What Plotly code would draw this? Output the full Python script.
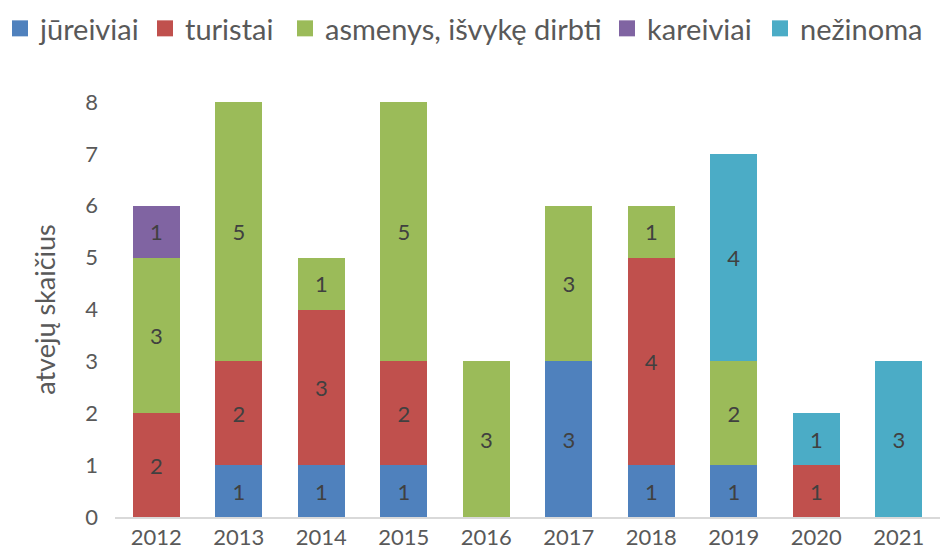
import plotly.graph_objects as go

years = ["2012", "2013", "2014", "2015", "2016", "2017", "2018", "2019", "2020", "2021"]
jureiviai = [0, 1, 1, 1, 0, 3, 1, 1, 0, 0]
turistai = [2, 2, 3, 2, 0, 0, 4, 0, 1, 0]
asmenys = [3, 5, 1, 5, 3, 3, 1, 2, 0, 0]
kareiviai = [1, 0, 0, 0, 0, 0, 0, 0, 0, 0]
nezinoma = [0, 0, 0, 0, 0, 0, 0, 4, 1, 3]

series = [
    ("jūreiviai", jureiviai, "#4F81BD"),
    ("turistai", turistai, "#C0504D"),
    ("asmenys, išvykę dirbti", asmenys, "#9BBB59"),
    ("kareiviai", kareiviai, "#8064A2"),
    ("nežinoma", nezinoma, "#4BACC6"),
]
legend_left_px = [0, 145, 285, 607, 760]

FONT = "Lato, sans-serif"
W, H = 941, 559

fig = go.Figure()
for i, (name, vals, color) in enumerate(series):
    fig.add_trace(go.Bar(
        x=years,
        y=[v if v else None for v in vals],
        name=name,
        showlegend=False,
        marker=dict(color=color, line=dict(width=0)),
        text=[str(v) if v else "" for v in vals],
        textposition="inside",
        insidetextanchor="middle",
        textangle=0,
        constraintext="none",
        textfont=dict(family=FONT, size=22, color="#404040"),
        hoverinfo="x+y+name",
    ))
    lg = "legend" if i == 0 else f"legend{i + 1}"
    # legend proxy (no data points)
    fig.add_trace(go.Scatter(
        x=[None], y=[None], mode="markers", name=name,
        marker=dict(symbol="square", size=20, color=color),
        legend=lg, showlegend=True, hoverinfo="skip",
    ))
    fig.update_layout({lg: dict(
        orientation="h",
        x=legend_left_px[i] / W,
        xref="container",
        xanchor="left",
        y=1 - 3 / H,
        yref="container",
        yanchor="top",
        bgcolor="rgba(0,0,0,0)",
        font=dict(family=FONT, size=29, color="#595959"),
        itemwidth=30,
        itemsizing="trace",
    )})

fig.update_layout(
    barmode="stack",
    bargap=0.43,
    width=W,
    height=H,
    paper_bgcolor="white",
    plot_bgcolor="white",
    margin=dict(l=115, r=1, t=102, b=42, autoexpand=False),
    font=dict(family=FONT, color="#595959"),
    xaxis=dict(
        type="category",
        showgrid=False,
        showline=True,
        linecolor="#D9D9D9",
        linewidth=1.5,
        ticks="",
        tickfont=dict(size=22, color="#595959"),
    ),
    yaxis=dict(
        range=[0, 8],
        dtick=1,
        showgrid=False,
        zeroline=False,
        showline=False,
        ticks="",
        ticklabelstandoff=16,
        tickfont=dict(size=22, color="#595959"),
        title=dict(text="atvejų skaičius", font=dict(size=27, color="#595959"), standoff=21),
    ),
)

fig.write_html(
    "out.html",
    config={"displayModeBar": False},
    post_script="document.body.style.margin='0';document.body.style.overflow='hidden';",
)
